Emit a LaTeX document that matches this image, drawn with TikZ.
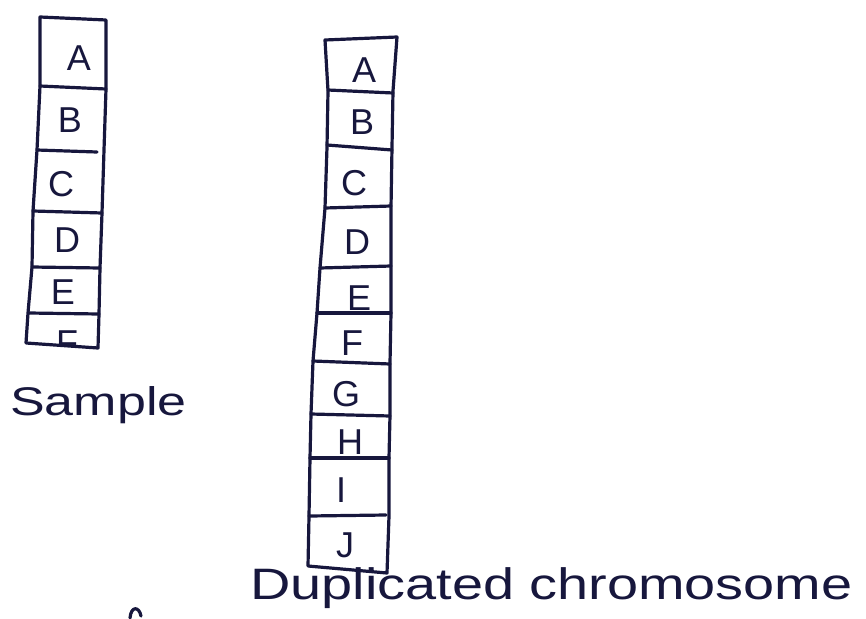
\documentclass[tikz,border=0pt]{standalone}
\usepackage{fontspec}
\usepackage{graphicx}
\setmainfont{Liberation Sans}
\definecolor{ink}{rgb}{0.09,0.09,0.24}
\tikzset{
  pen/.style={draw=ink, line width=3.2pt, line cap=round, line join=round},
  letter/.style={text=ink, inner sep=0pt, font=\fontsize{36}{36}\selectfont},
  caption/.style={text=ink, inner sep=0pt, anchor=base west}
}
\begin{document}
\begin{tikzpicture}[x=1pt, y=-1pt]
\useasboundingbox (0,0) rectangle (866,618);

% ---- sample chromosome (six segments) ----
\draw[pen] (40,17) -- (106,20) -- (106,89) -- (104,150) -- (102,213)
  -- (100,268) -- (99,314) -- (98,348) -- (26,343) -- (28,313) -- (32,267)
  -- (33,211) -- (37,150) -- (40,86) -- cycle;
\draw[pen] (40,86) -- (106,89);
\draw[pen] (37,150) -- (97,152);
\draw[pen] (33,211) -- (102,213);
\draw[pen] (32,267) -- (100,268);
\draw[pen] (29,313) -- (99,314);

\node[letter] (sA) at (79,58) {A};
\node[letter] (sB) at (70,120) {B};
\node[letter] (sC) at (61,184) {C};
\node[letter] (sD) at (67,240) {D};
\node[letter] (sE) at (63,292) {E};
\begin{scope}
  \clip (28,316) rectangle (99,345);
  \node[letter] (sF) at (67,343) {F};
\end{scope}

\node[caption, font=\fontsize{40}{40}\selectfont] (sample) at (10,415)
  {\scalebox{1.3}[1]{Sample}};

% ---- duplicated chromosome (ten segments) ----
\draw[pen] (325,40) -- (397,37) -- (393,91) -- (392,147) -- (391,208)
  -- (391,268) -- (391,313) -- (390,363) -- (390,415) -- (389,458)
  -- (389,516) -- (387,573) -- (308,566) -- (309,516) -- (310,458)
  -- (311,414) -- (313,361) -- (317,313) -- (320,268) -- (325,208)
  -- (327,147) -- (328,91) -- cycle;
\draw[pen] (328,90) -- (393,93);
\draw[pen] (327,145) -- (392,150);
\draw[pen] (325,208) -- (391,206);
\draw[pen] (320,268) -- (391,266);
\draw[pen] (317,313) -- (391,313);
\draw[pen] (313,361) -- (390,364);
\draw[pen] (311,414) -- (390,416);
\draw[pen] (310,458) -- (389,458);
\draw[pen] (309,516) -- (386,515);

\node[letter] (dA) at (364,70) {A};
\node[letter] (dB) at (362,122) {B};
\node[letter] (dC) at (354,183) {C};
\node[letter] (dD) at (357,242) {D};
\node[letter] (dE) at (359,298) {E};
\node[letter] (dF) at (352,343) {F};
\node[letter] (dG) at (346,394) {G};
\node[letter] (dH) at (350,442) {H};
\node[letter] (dI) at (341,490) {I};
\node[letter] (dJ) at (345,545) {J};

\node[caption, font=\fontsize{44}{44}\selectfont] (dup) at (250,599)
  {\scalebox{1.27}[1]{Duplicated chromosome}};

% stray pen stroke at the lower edge
\draw[pen] (130,618) .. controls (131,606) and (139,606) .. (141,616);
\end{tikzpicture}
\end{document}
